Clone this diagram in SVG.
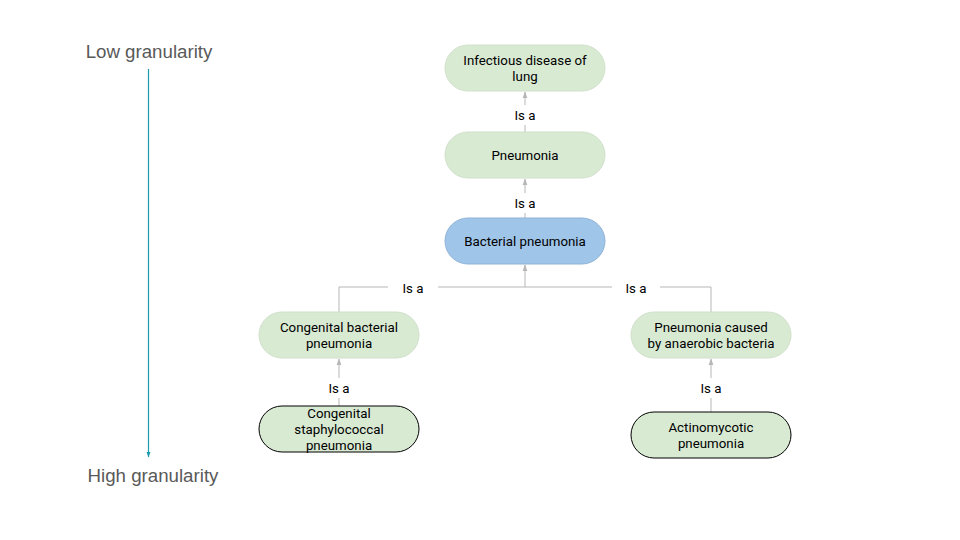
<svg xmlns="http://www.w3.org/2000/svg" width="960" height="540" viewBox="0 0 960 540">
<style>
.n{fill:#d9ead3;stroke:#d0e0cb;stroke-width:1}
.b{fill:#9fc5e8;stroke:#8fb3d6;stroke-width:1}
.k{fill:#d9ead3;stroke:#000;stroke-width:1}
.t{font-family:Roboto,"Liberation Sans",sans-serif;font-size:13.3px;fill:#000;text-anchor:middle}
.c{fill:none;stroke:#b7b7b7;stroke-width:1}
.g{font-family:"Liberation Sans",Arial,sans-serif;font-size:18.7px;fill:#595959;text-anchor:middle}
</style>
<defs>
<marker id="ar" viewBox="0 0 10 10" refX="9" refY="5" markerWidth="7" markerHeight="7" orient="auto">
<path d="M0,1.5 L10,5 L0,8.5 z" fill="#b7b7b7"/>
</marker>
<marker id="ab" viewBox="0 0 10 10" refX="9" refY="5" markerWidth="5" markerHeight="5" orient="auto">
<path d="M0,1.5 L10,5 L0,8.5 z" fill="#1a9bb0"/>
</marker>
</defs>
<rect width="960" height="540" fill="#fff"/>
<g id="axis">
<line x1="148.5" y1="69" x2="148.5" y2="457" stroke="#1a9bb0" stroke-width="1.2" marker-end="url(#ab)"/>
<text class="g" x="149" y="58">Low granularity</text>
<text class="g" x="153" y="482">High granularity</text>
</g>
<g id="connectors">
<line class="c" x1="525" y1="132" x2="525" y2="92" marker-end="url(#ar)"/>
<line class="c" x1="525" y1="218" x2="525" y2="179" marker-end="url(#ar)"/>
<polyline class="c" points="339,312 339,287 711,287 711,312"/>
<line class="c" x1="525" y1="287" x2="525" y2="265" marker-end="url(#ar)"/>
<line class="c" x1="339" y1="406" x2="339" y2="359" marker-end="url(#ar)"/>
<line class="c" x1="711" y1="412" x2="711" y2="359" marker-end="url(#ar)"/>
<rect x="508" y="105" width="34" height="20" fill="#fff"/>
<text class="t" x="525" y="120">Is a</text>
<rect x="508" y="193" width="34" height="20" fill="#fff"/>
<text class="t" x="525" y="208">Is a</text>
<rect x="388" y="278" width="50" height="20" fill="#fff"/>
<text class="t" x="413" y="293">Is a</text>
<rect x="612" y="278" width="48" height="20" fill="#fff"/>
<text class="t" x="636" y="293">Is a</text>
<rect x="322" y="378" width="34" height="20" fill="#fff"/>
<text class="t" x="339" y="393">Is a</text>
<rect x="694" y="378" width="34" height="20" fill="#fff"/>
<text class="t" x="711" y="393">Is a</text>
</g>
<g id="infectious">
<rect class="n" x="445" y="45" width="160" height="46" rx="23"/>
<text class="t" x="525" y="65">Infectious disease of</text>
<text class="t" x="525" y="81">lung</text>
</g>
<g id="pneumonia">
<rect class="n" x="445" y="132" width="160" height="46" rx="23"/>
<text class="t" x="525" y="159.5">Pneumonia</text>
</g>
<g id="bacterial">
<rect class="b" x="445" y="218" width="160" height="46" rx="23"/>
<text class="t" x="525" y="245.5">Bacterial pneumonia</text>
</g>
<g id="congenital">
<rect class="n" x="259" y="312" width="160" height="46" rx="23"/>
<text class="t" x="339" y="332">Congenital bacterial</text>
<text class="t" x="339" y="348">pneumonia</text>
</g>
<g id="anaerobic">
<rect class="n" x="631" y="312" width="160" height="46" rx="23"/>
<text class="t" x="711" y="332">Pneumonia caused</text>
<text class="t" x="711" y="348">by anaerobic bacteria</text>
</g>
<g id="staphylococcal">
<rect class="k" x="259" y="406" width="160" height="46" rx="23"/>
<text class="t" x="339" y="418">Congenital</text>
<text class="t" x="339" y="434">staphylococcal</text>
<text class="t" x="339" y="450">pneumonia</text>
</g>
<g id="actinomycotic">
<rect class="k" x="631" y="412" width="160" height="46" rx="23"/>
<text class="t" x="711" y="432">Actinomycotic</text>
<text class="t" x="711" y="448">pneumonia</text>
</g>
</svg>
